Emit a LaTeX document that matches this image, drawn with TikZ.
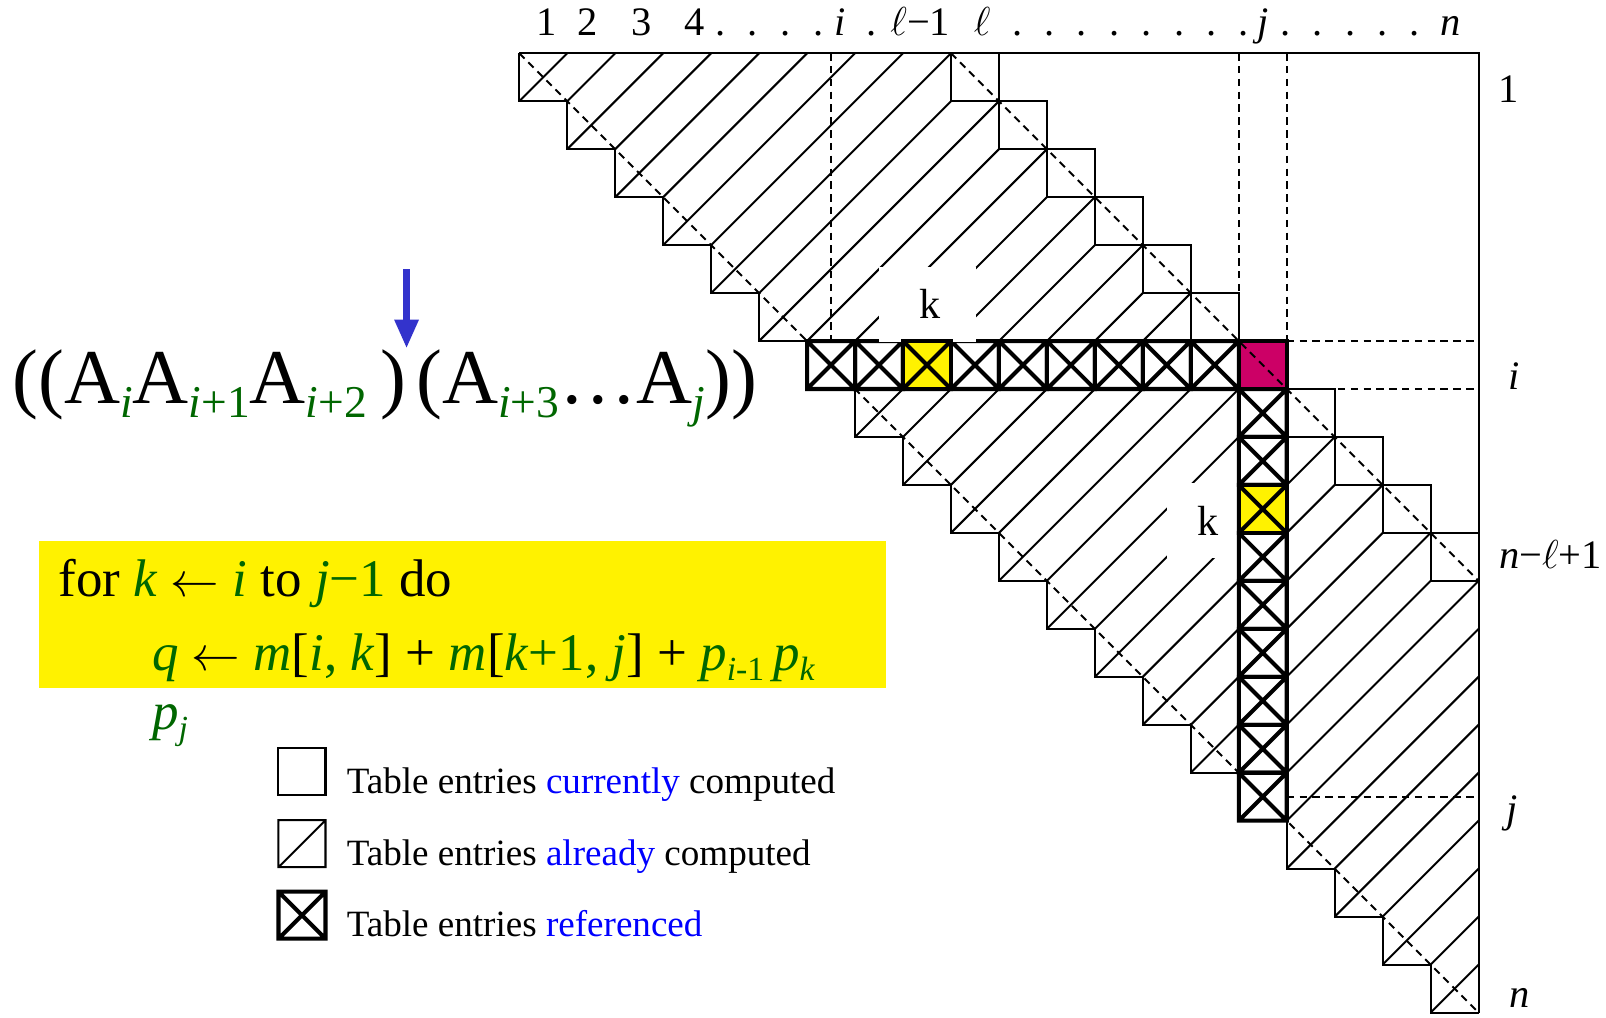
\documentclass[tikz,border=0pt]{standalone}
\usepackage{fontspec}
\setmainfont{Liberation Serif}
\usepackage{xcolor}
\usepackage{tikz}
\usetikzlibrary{arrows.meta}

\definecolor{idxgreen}{RGB}{0,102,0}
\definecolor{arrowblue}{RGB}{51,51,204}
\definecolor{cellred}{RGB}{204,0,102}
\newcommand{\gv}[1]{\textcolor{idxgreen}{\textit{#1}}}
\newcommand{\gn}[1]{\textcolor{idxgreen}{#1}}
\newcommand{\bigidx}[1]{\raisebox{-4.3pt}{\fontsize{13.5pt}{16pt}\selectfont\color{idxgreen}#1}}
\newcommand{\codeidx}[1]{\raisebox{-3pt}{\fontsize{10pt}{12pt}\selectfont\color{idxgreen}#1}}
\newcommand{\getsarrow}{$\leftarrow$}

\begin{document}
\begin{tikzpicture}[x=0.5cm, y=-0.5cm,
    gridline/.style={line width=0.6pt},
    dashline/.style={line width=0.6pt, dash pattern=on 2.2pt off 1.6pt},
    refline/.style={line width=1.2pt},
    lbl/.style={font=\fontsize{12pt}{14pt}\selectfont, inner sep=0pt, anchor=base},
    legtext/.style={font=\fontsize{11pt}{13pt}\selectfont, inner sep=0pt, anchor=base west}]
\useasboundingbox (-10.826,-1.110) rectangle (22.656,20.094);
% Already computed entries
\begin{scope}
\clip (0,0) \foreach \r in {1,...,11} { -- (\r+8,\r-1) -- (\r+8,\r) } -- (20,11) -- (20,20)
  \foreach \r in {20,...,1} { -- (\r-1,\r) -- (\r-1,\r-1) } -- cycle;
\foreach \k in {1,...,39}
  \draw[gridline] (\k+1,-1) -- (-1,\k+1);
\end{scope}
% Staircase and frame
\draw[gridline] (0,0) \foreach \r in {1,...,20} { -- (\r-1,\r) -- (\r,\r) };
\draw[gridline] (0,0) -- (20,0) -- (20,20);
% Entries currently computed
\foreach \r in {1,...,11}
  \draw[gridline] (\r+8,\r-1) rectangle (\r+9,\r);
% Guides for i and j
\draw[dashline] (6.5,0) -- (6.5,6);
\draw[dashline] (15,0) -- (15,6) (16,0) -- (16,6);
\draw[dashline] (16,6) -- (20,6) (16,7) -- (20,7) (16,15.5) -- (20,15.5);
% Row i referenced
\foreach \c in {7,...,15}
  \draw[refline] (\c-1,6) rectangle (\c,7) (\c-1,6) -- (\c,7) (\c,6) -- (\c-1,7);
% Room for the k labels
\fill[white] (7.49,4.45) rectangle (9.53,6.03);
\fill[white] (13.5,8.96) rectangle (14.97,10.52);
% Column j referenced
\foreach \r in {8,...,16}
  \draw[refline] (15,\r-1) rectangle (16,\r) (15,\r-1) -- (16,\r) (16,\r-1) -- (15,\r);
% Entries k and (i,j)
\filldraw[refline, fill=yellow] (8,6) rectangle (9,7);
\draw[refline] (8,6) -- (9,7) (9,6) -- (8,7);
\filldraw[refline, fill=yellow] (15,9) rectangle (16,10);
\draw[refline] (15,9) -- (16,10) (16,9) -- (15,10);
\filldraw[refline, fill=cellred] (15,6) rectangle (16,7);
% Diagonals
\draw[dashline] (0,0) -- (20,20);
\draw[dashline] (9,0) -- (20,11);
\node[lbl, font=\fontsize{12.5pt}{14pt}\selectfont, anchor=center] (ktop) at (8.57,5.22) {k};
\node[lbl, font=\fontsize{12.5pt}{14pt}\selectfont, anchor=center] (kleft) at (14.35,9.74) {k};
% Column labels
\foreach \x/\lab [count=\m] in {0.56/1, 1.43/2, 2.55/3, 3.65/4, 6.68/\textit{i}, 8.36/$\ell$−1, 9.65/$\ell$, 15.51/\textit{j}, 19.42/\textit{n}}
  \node[lbl] (col\m) at (\x,-0.36) {\lab};
\foreach \x [count=\m] in {4.19,4.87,5.56,6.24,7.35,10.38,11.06,11.73,12.41,13.08,13.76,14.43,15.11,15.98,16.65,17.33,18.00,18.67}
  \node[lbl] (dot\m) at (\x,-0.36) {.};
% Row labels
\node[lbl] (row1) at (20.62,1.02) {1};
\node[lbl] (rowi) at (20.75,7.02) {\textit{i}};
\node[lbl] (rowl) at (21.5,10.74) {\textit{n}−$\ell$+1};
\node[lbl] (rowj) at (20.7,16.03) {\textit{j}};
\node[lbl] (rown) at (20.85,19.9) {\textit{n}};
% Parenthesization
\node[inner sep=0pt, anchor=base west, font=\fontsize{23pt}{26pt}\selectfont] (prod) at (-10.58,7.30)
  {((A\bigidx{\textit{i}}A\bigidx{\textit{i}+1}A\bigidx{\textit{i}+2}\hspace{4pt})\hspace{3pt}(A\bigidx{\textit{i}+3}…A\bigidx{\textit{j}}))};
\coordinate (splittop) at (-2.35,4.50);
\coordinate (splittip) at (-2.35,6.15);
\draw[arrowblue, line width=1.9pt, -{Triangle[length=8.5pt, width=6.8pt]}] (splittop) -- (splittip);
% Loop body
\fill[yellow] (-10.02,10.16) rectangle (7.65,13.23);
\node[inner sep=0pt, anchor=base west, font=\fontsize{15.7pt}{18pt}\selectfont] (loop) at (-9.62,11.33)
  {for \gv{k} \getsarrow{} \gv{i} to \gv{j}\gn{−1} do};
\node[inner sep=0pt, anchor=base west, font=\fontsize{15.7pt}{18pt}\selectfont] (body) at (-7.67,12.87)
  {\gv{q} \getsarrow{} \gv{m}[\gv{i}\gn{,} \gv{k}] + \gv{m}[\gv{k}\gn{+1,} \gv{j}] + \gv{p}\codeidx{\textit{i}-1}\,\gv{p}\codeidx{\textit{k}}};
\node[inner sep=0pt, anchor=base west, font=\fontsize{15.7pt}{18pt}\selectfont] (bodyend) at (-7.67,14.09)
  {\gv{p}\codeidx{\textit{j}}};
% Legend
\draw[gridline] (-5.02,14.49) rectangle (-4.04,15.47);
\draw[gridline] (-5.02,15.99) rectangle (-4.04,16.97) (-5.02,16.97) -- (-4.04,15.99);
\draw[refline] (-5.02,17.48) rectangle (-4.04,18.46) (-5.02,17.48) -- (-4.04,18.46) (-5.02,18.46) -- (-4.04,17.48);
\node[legtext] (leg1) at (-3.61,15.43) {Table entries \textcolor{blue}{currently} computed};
\node[legtext] (leg2) at (-3.61,16.93) {Table entries \textcolor{blue}{already} computed};
\node[legtext] (leg3) at (-3.61,18.42) {Table entries \textcolor{blue}{referenced}};
\end{tikzpicture}
\end{document}
